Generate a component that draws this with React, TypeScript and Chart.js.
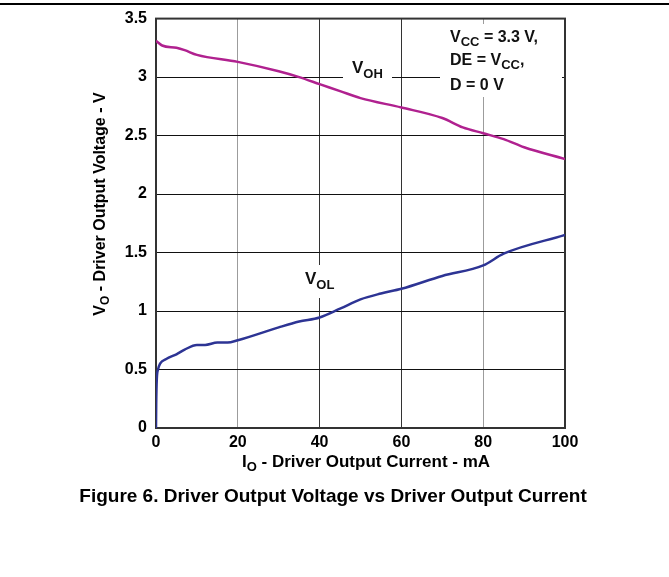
import React, { useEffect, useRef } from 'react';
import { Chart, registerables } from 'chart.js';

Chart.register(...registerables);

// ---- data ----
const vohCurrent = [0, 1.5, 5, 7, 10, 20, 30, 35, 40, 45, 50, 60, 70, 75, 80, 85, 90, 100];
const vohVoltage = [3.31, 3.27, 3.25, 3.23, 3.19, 3.13, 3.05, 3.0, 2.94, 2.88, 2.82, 2.74, 2.65, 2.57, 2.52, 2.47, 2.4, 2.3];

const volCurrent = [0, 0.05, 0.2, 0.5, 1, 2.5, 5, 7, 10, 12, 15, 17.5, 20, 30, 35, 40, 45, 50, 55, 60, 70, 80, 85, 100];
const volVoltage = [0, 0.2, 0.42, 0.5, 0.55, 0.59, 0.63, 0.67, 0.71, 0.71, 0.73, 0.73, 0.75, 0.86, 0.91, 0.945, 1.02, 1.1, 1.15, 1.19, 1.3, 1.39, 1.49, 1.65];

const xTickValues = [0, 20, 40, 60, 80, 100];
const yTickValues = [0, 0.5, 1, 1.5, 2, 2.5, 3, 3.5];
const yTickLabels = ['0', '0.5', '1', '1.5', '2', '2.5', '3', '3.5'];

const FONT = "Arial, 'Liberation Sans', Helvetica, sans-serif";

type Seg = { t: string; sub?: boolean };

function richWidth(ctx: CanvasRenderingContext2D, segs: Seg[], size: number, subSize: number) {
  let w = 0;
  for (const s of segs) {
    ctx.font = `bold ${s.sub ? subSize : size}px ${FONT}`;
    w += ctx.measureText(s.t).width;
  }
  return w;
}

function drawRich(ctx: CanvasRenderingContext2D, x: number, y: number, segs: Seg[], size: number, subSize: number, subDy: number) {
  let cx = x;
  ctx.textAlign = 'left';
  ctx.textBaseline = 'alphabetic';
  for (const s of segs) {
    ctx.font = `bold ${s.sub ? subSize : size}px ${FONT}`;
    ctx.fillText(s.t, cx, s.sub ? y + subDy : y);
    cx += ctx.measureText(s.t).width;
  }
}

const decorPlugin = {
  id: 'decor',
  beforeDatasetsDraw(chart: any) {
    const ctx: CanvasRenderingContext2D = chart.ctx;
    const a = chart.chartArea;
    ctx.save();
    // white backgrounds behind in-plot labels
    ctx.fillStyle = '#ffffff';
    ctx.fillRect(343, 56, 49, 28);
    ctx.fillRect(440, 24, 122, 73);
    ctx.fillRect(298, 265, 46, 33);
    // frame
    ctx.strokeStyle = '#333333';
    ctx.lineWidth = 2;
    ctx.strokeRect(a.left, a.top, a.right - a.left, a.bottom - a.top);
    // labels
    ctx.fillStyle = '#111111';
    drawRich(ctx, 352, 73, [{ t: 'V' }, { t: 'OH', sub: true }], 17, 13, 5);
    drawRich(ctx, 305, 284, [{ t: 'V' }, { t: 'OL', sub: true }], 17, 13, 5);
    drawRich(ctx, 450, 42, [{ t: 'V' }, { t: 'CC', sub: true }, { t: ' = 3.3 V,' }], 16, 13, 4);
    drawRich(ctx, 450, 65, [{ t: 'DE = V' }, { t: 'CC', sub: true }, { t: ',' }], 16, 13, 4);
    drawRich(ctx, 450, 90, [{ t: 'D = 0 V' }], 16, 13, 4);
    ctx.restore();
  },
  afterDraw(chart: any) {
    const ctx: CanvasRenderingContext2D = chart.ctx;
    ctx.save();
    ctx.fillStyle = '#000000';
    // top rule across the page
    ctx.fillRect(0, 3, chart.width, 2);
    // x axis title
    const xs: Seg[] = [{ t: 'I' }, { t: 'O', sub: true }, { t: ' - Driver Output Current - mA' }];
    const xw = richWidth(ctx, xs, 17, 13);
    drawRich(ctx, 366 - xw / 2, 467, xs, 17, 13, 4);
    // y axis title
    const ys: Seg[] = [{ t: 'V' }, { t: 'O', sub: true }, { t: ' - Driver Output Voltage - V' }];
    const yw = richWidth(ctx, ys, 16, 12);
    ctx.save();
    ctx.translate(105, 204);
    ctx.rotate(-Math.PI / 2);
    drawRich(ctx, -yw / 2, 0, ys, 16, 12, 4);
    ctx.restore();
    // caption
    ctx.font = `bold 19px ${FONT}`;
    ctx.textAlign = 'center';
    ctx.textBaseline = 'alphabetic';
    ctx.fillText('Figure 6. Driver Output Voltage vs Driver Output Current', 333, 502);
    ctx.restore();
  },
};

export default function App() {
  const ref = useRef<HTMLCanvasElement | null>(null);
  useEffect(() => {
    if (!ref.current) return;
    const chart = new Chart(ref.current, {
      type: 'line',
      data: {
        datasets: [
          {
            label: 'VOH',
            data: vohCurrent.map((x, i) => ({ x, y: vohVoltage[i] })),
            borderColor: '#B0218F',
            borderWidth: 2.5,
            pointRadius: 0,
            fill: false,
            cubicInterpolationMode: 'monotone',
          },
          {
            label: 'VOL',
            data: volCurrent.map((x, i) => ({ x, y: volVoltage[i] })),
            borderColor: '#2D3494',
            borderWidth: 2.5,
            pointRadius: 0,
            fill: false,
            cubicInterpolationMode: 'monotone',
          },
        ],
      },
      options: {
        responsive: false,
        animation: false,
        devicePixelRatio: 1,
        layout: { padding: { top: 18, right: 104, bottom: 0, left: 0 } },
        plugins: {
          legend: { display: false },
          tooltip: { enabled: false },
          title: { display: false },
        },
        scales: {
          x: {
            type: 'linear',
            min: 0,
            max: 100,
            afterFit: (s: any) => {
              s.height = 149;
            },
            afterBuildTicks: (s: any) => {
              s.ticks = xTickValues.map((v) => ({ value: v }));
            },
            ticks: {
              font: { family: FONT, size: 16, weight: 'bold' },
              color: '#000',
              padding: 5,
              maxRotation: 0,
              autoSkip: false,
              callback: (v: any) => String(v),
            },
            grid: {
              drawTicks: false,
              lineWidth: 1,
              color: (c: any) => (c.tick && (c.tick.value === 20 || c.tick.value === 80) ? '#9c9c9c' : '#333333'),
            },
            border: { display: false },
          },
          y: {
            type: 'linear',
            min: 0,
            max: 3.5,
            afterFit: (s: any) => {
              s.width = 156;
            },
            afterBuildTicks: (s: any) => {
              s.ticks = yTickValues.map((v) => ({ value: v }));
            },
            ticks: {
              font: { family: FONT, size: 16, weight: 'bold' },
              color: '#000',
              padding: 9,
              autoSkip: false,
              callback: (v: any) => {
                const i = yTickValues.indexOf(Number(v));
                return i >= 0 ? yTickLabels[i] : '';
              },
            },
            grid: { drawTicks: false, lineWidth: 1, color: '#111111' },
            border: { display: false },
          },
        },
      } as any,
      plugins: [decorPlugin],
    });
    return () => chart.destroy();
  }, []);
  return (
    <div style={{ position: 'absolute', left: 0, top: 0, width: 669, height: 577 }}>
      <canvas ref={ref} width={669} height={577} style={{ display: 'block', width: 669, height: 577 }} />
    </div>
  );
}
